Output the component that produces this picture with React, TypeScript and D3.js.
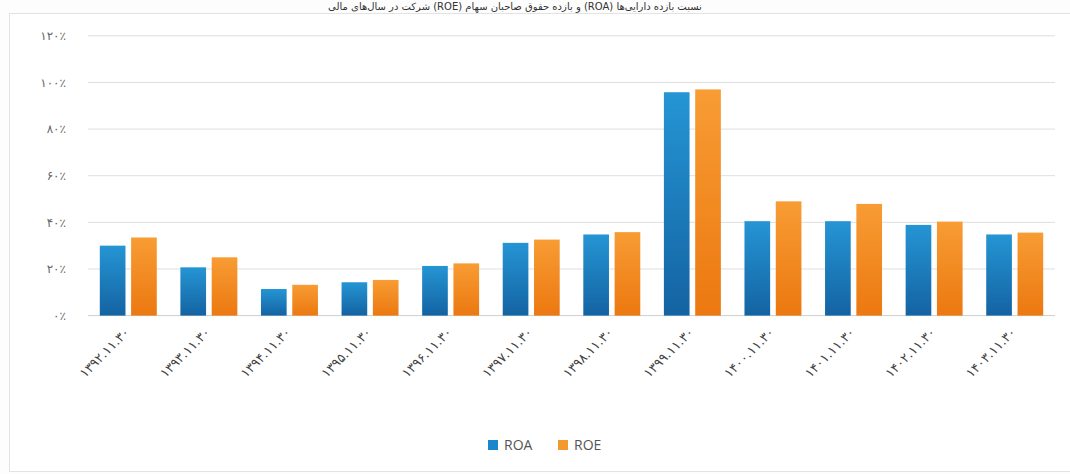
import React from "react";
import * as d3 from "d3";

const categories = [
  "۱۳۹۲.۱۱.۳۰", "۱۳۹۳.۱۱.۳۰", "۱۳۹۴.۱۱.۳۰", "۱۳۹۵.۱۱.۳۰", "۱۳۹۶.۱۱.۳۰", "۱۳۹۷.۱۱.۳۰",
  "۱۳۹۸.۱۱.۳۰", "۱۳۹۹.۱۱.۳۰", "۱۴۰۰.۱۱.۳۰", "۱۴۰۱.۱۱.۳۰", "۱۴۰۲.۱۱.۳۰", "۱۴۰۳.۱۱.۳۰",
];
const roa = [30, 20.7, 11.4, 14.3, 21.3, 31.2, 34.8, 95.8, 40.5, 40.5, 38.9, 34.8];
const roe = [33.5, 25, 13.2, 15.3, 22.4, 32.6, 35.8, 97, 49, 47.9, 40.3, 35.6];
const seriesNames = ["ROA", "ROE"];
const yTicks = [0, 20, 40, 60, 80, 100, 120];
const yTickLabels = ["۰٪", "۲۰٪", "۴۰٪", "۶۰٪", "۸۰٪", "۱۰۰٪", "۱۲۰٪"];
const title = "نسبت بازده دارایی‌ها (ROA) و بازده حقوق صاحبان سهام (ROE) شرکت در سال‌های مالی";

const W = 1070;
const H = 474;

export default function App() {
  const x0 = d3.scaleBand<string>().domain(categories).range([88, 1055]).paddingInner(0.293).paddingOuter(0.1465);
  const x1 = d3.scaleBand<string>().domain(seriesNames).range([0, x0.bandwidth()]).paddingInner(0.18);
  const y = d3.scaleLinear().domain([0, 120]).range([315.6, 35.8]);
  const series = [roa, roe];
  const fills = ["url(#gBlue)", "url(#gOrange)"];
  const legendColors = ["#1b86cc", "#f39a2e"];

  return (
    <svg width={W} height={H} style={{ position: "absolute", left: 0, top: 0, background: "#fff" }}>
      <defs>
        <linearGradient id="gBlue" x1="0" y1="0" x2="0" y2="1">
          <stop offset="0%" stopColor="#2595d4" />
          <stop offset="100%" stopColor="#1463a2" />
        </linearGradient>
        <linearGradient id="gOrange" x1="0" y1="0" x2="0" y2="1">
          <stop offset="0%" stopColor="#f89c34" />
          <stop offset="100%" stopColor="#ec7810" />
        </linearGradient>
      </defs>
      <rect x={0} y={0} width={W} height={H} fill="#fdfdfd" />
      <rect x={9.5} y={13.5} width={W + 20} height={458} fill="#fff" stroke="#e3e3e3" />
      <text x={515} y={10} textAnchor="middle" direction="rtl" fontFamily="DejaVu Sans" fontSize={10} fill="#333">
        {title}
      </text>
      {yTicks.map((t, i) => (
        <g key={t}>
          <line x1={88} x2={1055} y1={y(t)} y2={y(t)} stroke={t === 0 ? "#cfcfcf" : "#dedede"} strokeWidth={1} />
          <text x={66} y={y(t)} dy="0.35em" textAnchor="end" fontFamily="DejaVu Sans" fontSize={12} fill="#666">
            {yTickLabels[i]}
          </text>
        </g>
      ))}
      {categories.map((c, i) => (
        <g key={c} transform={`translate(${x0(c)},0)`}>
          {seriesNames.map((s, j) => (
            <rect
              key={s}
              x={x1(s)}
              y={y(series[j][i])}
              width={x1.bandwidth()}
              height={y(0) - y(series[j][i])}
              fill={fills[j]}
            />
          ))}
        </g>
      ))}
      {categories.map((c) => {
        const cx = (x0(c) as number) + x0.bandwidth() / 2 + 2;
        return (
          <text
            key={c}
            transform={`translate(${cx},333) rotate(-45)`}
            textAnchor="end"
            fontFamily="DejaVu Sans"
            fontSize={13}
            letterSpacing={2.2}
            fill="#444"
          >
            {c}
          </text>
        );
      })}
      {seriesNames.map((s, j) => {
        const lx = j === 0 ? 488 : 558;
        return (
          <g key={s}>
            <rect x={lx} y={440} width={10} height={10} fill={legendColors[j]} />
            <text x={lx + 16} y={450} fontFamily="Open Sans" fontSize={14} fill="#555">
              {s}
            </text>
          </g>
        );
      })}
    </svg>
  );
}
